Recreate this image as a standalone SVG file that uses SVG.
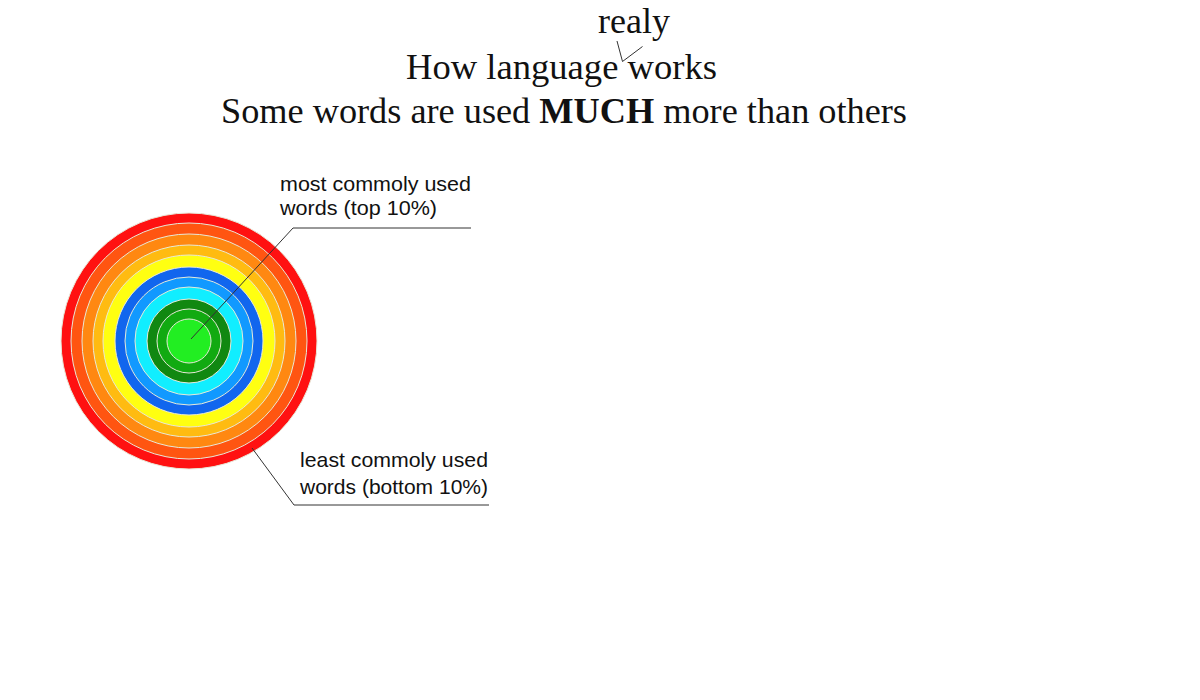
<svg xmlns="http://www.w3.org/2000/svg" width="1200" height="700" viewBox="0 0 1200 700">
<style>
.title{font-family:"Liberation Serif","Times New Roman",serif;font-size:36px;fill:#111}
.lbl{font-family:"Liberation Sans",Arial,sans-serif;font-size:21px;fill:#111}
.ring{stroke:#e8e8d8;stroke-width:1}
.lead{fill:none;stroke:#333;stroke-width:1}
</style>
<rect width="1200" height="700" fill="#fff"/>
<g id="title">
<text class="title" x="598" y="33" textLength="72" lengthAdjust="spacingAndGlyphs">realy</text>
<path d="M617,41 L622.5,61.5 L642.5,46.5" fill="none" stroke="#333" stroke-width="1"/>
<text class="title" x="406" y="79" textLength="311" lengthAdjust="spacingAndGlyphs">How language works</text>
<text class="title" x="221" y="123" textLength="686" lengthAdjust="spacingAndGlyphs">Some words are used <tspan font-weight="bold">MUCH</tspan> more than others</text>
</g>
<g id="target">
<circle class="ring" cx="189" cy="341" r="128" fill="#ff1111" stroke="none"/>
<circle class="ring" cx="189" cy="341" r="118" fill="#ff5511"/>
<circle class="ring" cx="189" cy="341" r="107" fill="#ff8811"/>
<circle class="ring" cx="189" cy="341" r="96" fill="#ffbb11"/>
<circle class="ring" cx="189" cy="341" r="86" fill="#ffff11"/>
<circle class="ring" cx="189" cy="341" r="74" fill="#1166ee" stroke="none"/>
<circle class="ring" cx="189" cy="341" r="64" fill="#1199ff"/>
<circle class="ring" cx="189" cy="341" r="54" fill="#11eeff"/>
<circle class="ring" cx="189" cy="341" r="42" fill="#118811" stroke="none"/>
<circle class="ring" cx="189" cy="341" r="32" fill="#11aa11"/>
<circle class="ring" cx="189" cy="341" r="22" fill="#22ee22"/>
</g>
<g id="connectors">
<polyline class="lead" points="191,339 293,228 471,228"/>
<polyline class="lead" points="252,448 294,505 489,505"/>
</g>
<g id="label-top">
<text class="lbl" x="280" y="191" textLength="191" lengthAdjust="spacingAndGlyphs">most commoly used</text>
<text class="lbl" x="280" y="215" textLength="157" lengthAdjust="spacingAndGlyphs">words (top 10%)</text>
</g>
<g id="label-bottom">
<text class="lbl" x="300" y="467" textLength="188" lengthAdjust="spacingAndGlyphs">least commoly used</text>
<text class="lbl" x="300" y="494" textLength="188" lengthAdjust="spacingAndGlyphs">words (bottom 10%)</text>
</g>
</svg>
